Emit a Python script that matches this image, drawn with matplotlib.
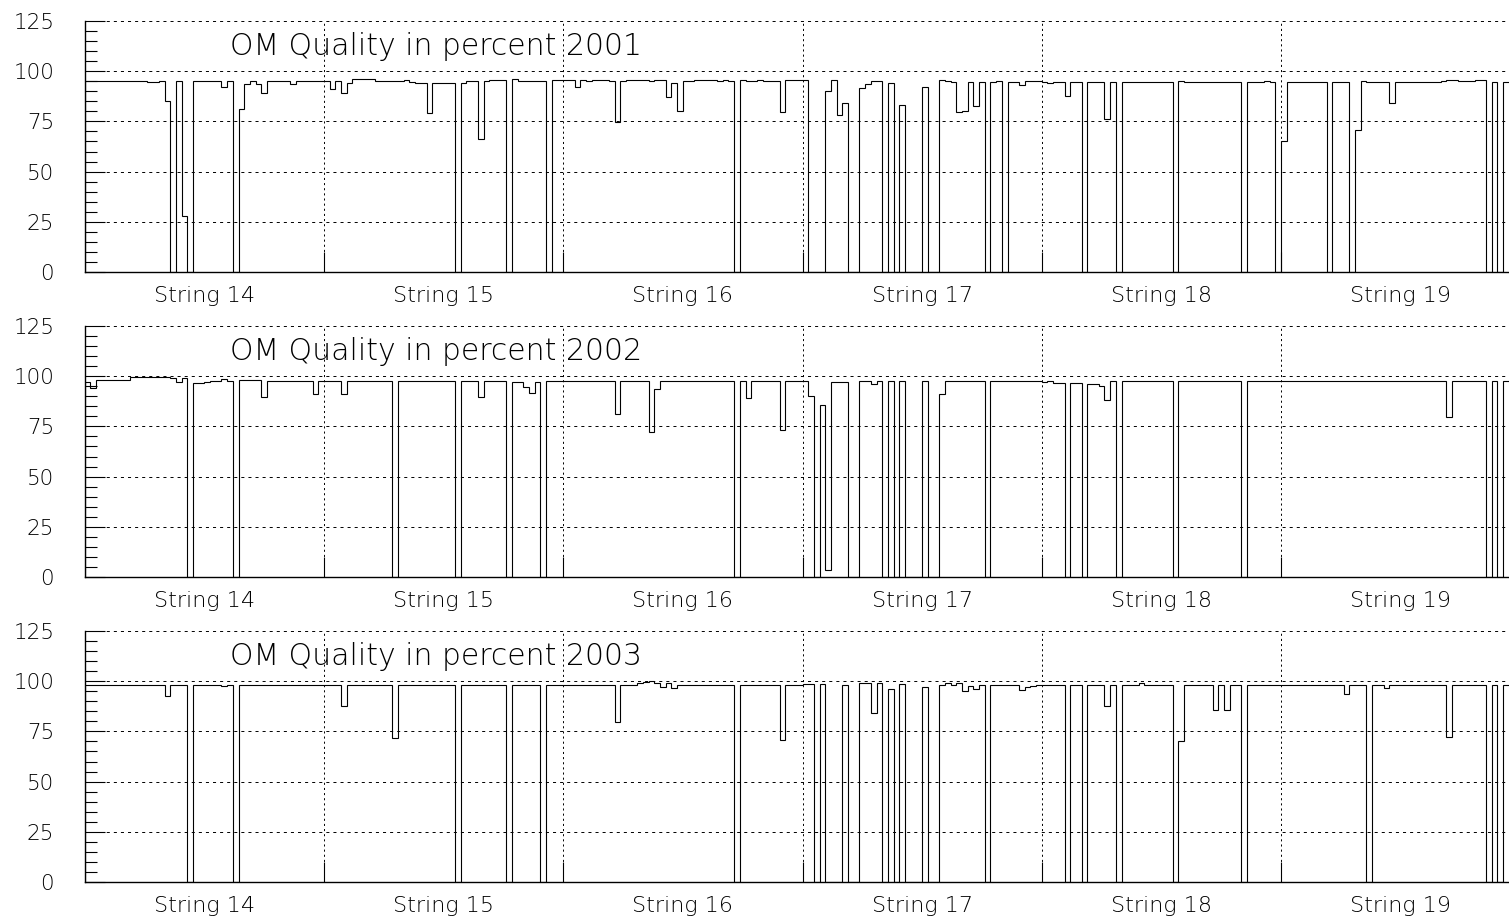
import matplotlib
matplotlib.use('Agg')
import matplotlib.pyplot as plt
import numpy as np

plt.rcParams['font.family'] = ['DejaVu Sans']
plt.rcParams['font.weight'] = 'light'
plt.rcParams['lines.scale_dashes'] = False

strings = [14, 15, 16, 17, 18, 19]
years = [2001, 2002, 2003]
oms_per_string = 42

# OM quality (percent) per optical module, one list per string
q2001 = [
    [95, 95, 95, 95, 95, 95, 95, 95, 95, 95, 95, 94.5, 94.5, 95, 85, 0, 95, 28, 0, 95,
     95, 95, 95, 95, 92, 95, 0, 81, 93.5, 95, 93.5, 89, 95, 95, 95, 95, 93.5, 95, 95, 95, 95, 95],
    [95, 91, 95, 89, 94, 96, 96, 96, 96, 95, 95, 95, 95, 95, 95.5, 94.5, 94, 94, 79, 94,
     94, 94, 94, 0, 94, 95, 95, 66, 95, 95.5, 95.5, 95.5, 0, 96, 95, 95, 95, 95, 95, 0, 95.5, 95.5],
    [95.6, 95.6, 92.3, 95.5, 95, 95.6, 95.6, 95.6, 95, 74.5, 95, 95.6, 95.6, 95.6, 95.6, 95, 95.6, 95.6, 87, 94.3,
     80.3, 95, 95, 95.6, 95.6, 95.6, 95.6, 95, 95.6, 95, 0, 95.6, 95, 95, 95.5, 95, 95, 95, 79.8, 95.6, 95.6, 95.6],
    [95.6, 0, 0, 0, 90.3, 95.6, 78.2, 84.3, 0, 0, 91.5, 93.6, 95.2, 95.2, 0, 94, 0, 83.2, 0, 0,
     0, 92, 0, 0, 95.6, 95.2, 94.6, 79.5, 80.3, 94.6, 82.7, 94.6, 0, 94.6, 95.2, 0, 94.5, 94.6, 93.1, 95.2, 95.2, 95.2],
    [94.6, 94.3, 94.6, 94.6, 87.6, 94.6, 94.6, 0, 94.6, 94.6, 94.6, 76.2, 94.6, 0, 94.6, 94.6, 94.6, 94.6, 94.6, 94.6,
     94.6, 94.6, 94.6, 0, 95.2, 94.6, 94.6, 94.6, 94.6, 94.6, 94.6, 94.6, 94.6, 94.6, 94.6, 0, 94.6, 94.6, 94.6, 95, 94.6, 0],
    [65, 94.6, 94.6, 94.6, 94.6, 94.6, 94.6, 94.6, 0, 94.6, 94.6, 94.6, 0, 70.7, 95, 94.6, 94.6, 94.6, 94.6, 84,
     94.6, 94.6, 94.6, 94.6, 94.6, 94.6, 94.6, 94.6, 95, 95.6, 95.6, 95, 95, 95, 95.6, 95.6, 0, 94.6, 0, 94.6, 94.6, 94.6],
]

q2002 = [
    [97, 94, 98, 98, 98, 98, 98, 98, 99.8, 99.8, 99.8, 99.8, 99.8, 99.8, 99.8, 99.3, 97, 99, 0, 96.4,
     96.4, 97, 97.5, 97.6, 98.4, 97.8, 0, 98, 98, 98, 98, 89.5, 97.6, 97.6, 97.6, 97.6, 97.6, 97.6, 97.6, 97.6, 91, 97.6],
    [97.6, 97.6, 97.6, 91, 97.6, 97.6, 97.6, 97.6, 97.6, 97.6, 97.6, 97.6, 0, 97.6, 97.6, 97.6, 97.6, 97.6, 97.6, 97.6,
     97.6, 97.6, 97.6, 0, 97.6, 97.6, 97.6, 89.5, 97.6, 97.6, 97.6, 97.6, 0, 97.3, 97.3, 94.8, 91.5, 97.3, 0, 97.6, 97.6, 97.6],
    [97.6, 97.6, 97.6, 97.6, 97.6, 97.6, 97.6, 97.6, 97.6, 81, 97.6, 97.6, 97.6, 97.6, 97.6, 72, 93.6, 97.6, 97.6, 97.6,
     97.6, 97.6, 97.6, 97.6, 97.6, 97.6, 97.6, 97.6, 97.6, 97.6, 0, 97.6, 89, 97.6, 97.6, 97.6, 97.6, 97.6, 73.2, 97.6, 97.6, 97.6],
    [97.6, 90.3, 0, 85.7, 3.5, 97.3, 97.3, 97.3, 0, 0, 97.6, 97.6, 96, 97.6, 0, 97.6, 0, 97.6, 0, 0,
     0, 97.6, 0, 0, 91, 97.6, 97.6, 97.6, 97.6, 97.6, 97.6, 97.6, 0, 97.8, 97.8, 97.8, 97.8, 97.8, 97.8, 97.8, 97.8, 97.8],
    [97.3, 97.6, 96.4, 96.4, 0, 96.4, 96.4, 0, 96, 96, 95.3, 88.1, 97.6, 0, 97.6, 97.6, 97.6, 97.6, 97.6, 97.6,
     97.6, 97.6, 97.6, 0, 97.6, 97.6, 97.6, 97.6, 97.6, 97.6, 97.6, 97.6, 97.6, 97.6, 97.6, 0, 97.6, 97.6, 97.6, 97.6, 97.6, 97.6],
    [97.6, 97.6, 97.6, 97.6, 97.6, 97.6, 97.6, 97.6, 97.6, 97.6, 97.6, 97.6, 97.6, 97.6, 97.6, 97.6, 97.6, 97.6, 97.6, 97.6,
     97.6, 97.6, 97.6, 97.6, 97.6, 97.6, 97.6, 97.6, 97.6, 79.8, 97.6, 97.6, 97.6, 97.6, 97.6, 97.6, 0, 97.6, 0, 97.6, 97.6, 97.6],
]

q2003 = [
    [98, 98, 98, 98, 98, 98, 98, 98, 98, 98, 98, 98, 98, 98, 92.8, 98, 98, 98, 0, 98,
     98, 98, 98, 98, 97.7, 98, 0, 98, 98, 98, 98, 98, 98, 98, 98, 98, 98, 98, 98, 98, 98, 98],
    [98, 98, 98, 87.6, 98, 98, 98, 98, 98, 98, 98, 98, 71.9, 98, 98, 98, 98, 98, 98, 98,
     98, 98, 98, 0, 98, 98, 98, 98, 98, 98, 98, 98, 0, 98, 98, 98, 98, 98, 0, 98, 98, 98],
    [98, 98, 98, 98, 98, 98, 98, 98, 98, 79.5, 98, 98, 98, 99, 99.5, 100, 99, 97, 99, 96.5,
     98, 98, 98, 98, 98, 98, 98, 98, 98, 98, 0, 98, 98, 98, 98, 98, 98, 98, 70.7, 98, 98, 98],
    [98.5, 98.5, 0, 98.5, 0, 0, 0, 98, 0, 0, 99, 99, 84, 99, 0, 96.1, 0, 98.5, 0, 0,
     0, 97, 0, 0, 98, 99, 98, 99, 95.1, 97.8, 96.1, 98, 0, 98, 98, 98, 98, 98, 95.6, 97.3, 97.8, 98],
    [98, 98, 98, 98, 0, 98, 98, 0, 98, 98, 98, 87.8, 98, 0, 98, 98, 98, 99, 98, 98,
     98, 98, 98, 0, 70.4, 98, 98, 98, 98, 98, 85.7, 98, 85.7, 98, 98, 0, 98, 98, 98, 98, 98, 98],
    [98, 98, 98, 98, 98, 98, 98, 98, 98, 98, 98, 93.5, 98, 98, 98, 0, 98, 98, 96.4, 98,
     98, 98, 98, 98, 98, 98, 98, 98, 98, 72.4, 98, 98, 98, 98, 98, 98, 0, 98, 0, 98, 98, 98],
]

W, H = 1509, 921
fig = plt.figure(figsize=(W / 100, H / 100), dpi=100)

left_px, right_px = 84.75, 1520.25   # right edge lies past the picture edge
bottoms_px = [272, 577, 882]
height_px = 251

n_om = oms_per_string * len(strings)
boundaries = [oms_per_string * k for k in range(1, len(strings))]
centers = [oms_per_string * (k + 0.5) for k in range(len(strings))]

for year, data, bot in zip(years, [q2001, q2002, q2003], bottoms_px):
    ax = fig.add_axes([left_px / W, 1 - bot / H, (right_px - left_px) / W, height_px / H])
    vals = np.concatenate([np.asarray(s, dtype=float) for s in data])
    ax.stairs(vals, np.arange(n_om + 1), color='black', linewidth=0.8, baseline=0, zorder=3)

    ax.set_xlim(0, n_om)
    ax.set_ylim(0, 125)

    ax.set_yticks([0, 25, 50, 75, 100, 125])
    ax.set_yticks(np.arange(0, 126, 5), minor=True)
    ax.set_xticks(boundaries)
    ax.set_xticklabels([])
    ax.set_xticks(centers, minor=True)
    ax.set_xticklabels([f'String {s}' for s in strings], minor=True)

    ax.tick_params(axis='y', which='major', direction='in', length=14.4, width=0.8,
                   labelsize=15.5, pad=22)
    ax.tick_params(axis='y', which='minor', direction='in', length=8.5, width=0.8)
    ax.tick_params(axis='x', which='major', direction='in', length=14.4, width=0.8)
    ax.tick_params(axis='x', which='minor', length=0, labelsize=16, pad=10)

    ax.grid(axis='y', which='major', color='black', linewidth=0.7, linestyle=(0, (2.2, 2.9)))
    ax.grid(axis='x', which='major', color='black', linewidth=0.7, linestyle=(0, (1.5, 2.2)))
    for side in ['top', 'right']:
        ax.spines[side].set_visible(False)
    ax.spines['left'].set_linewidth(1.0)
    ax.spines['bottom'].set_linewidth(1.0)

    ax.text(0.1012, 112.5, f'OM Quality in percent {year}', transform=ax.get_yaxis_transform(),
            fontsize=21.5, ha='left', va='center')

fig.savefig('out.png', dpi=100)
